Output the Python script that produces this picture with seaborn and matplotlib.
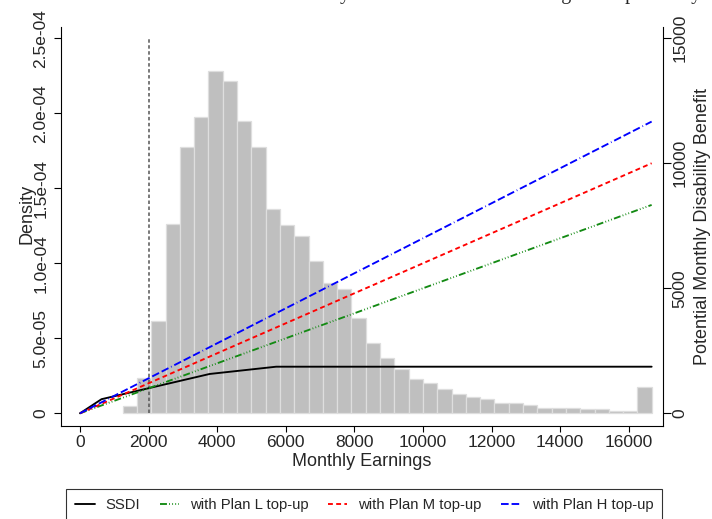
import numpy as np
import pandas as pd
import matplotlib
matplotlib.use("Agg")
import matplotlib.pyplot as plt
import seaborn as sns

# ---------------- data ----------------
bin_start = 1245
bin_width = 417
density = [4.9e-6, 2.33e-5, 6.15e-5, 1.262e-4, 1.775e-4, 1.978e-4, 2.28e-4,
           2.218e-4, 1.951e-4, 1.773e-4, 1.36e-4, 1.258e-4, 1.18e-4, 1.018e-4,
           8.71e-5, 8.29e-5, 6.33e-5, 4.71e-5, 3.71e-5, 2.98e-5, 2.31e-5,
           2.04e-5, 1.64e-5, 1.31e-5, 1.11e-5, 9.8e-6, 7.1e-6, 7.1e-6, 5.3e-6,
           3.8e-6, 3.8e-6, 3.8e-6, 2.9e-6, 2.9e-6, 1.3e-6, 1.3e-6, 1.73e-5]

ssdi_x = [0, 627, 3779, 5720, 16670]
ssdi_y = [0, 564, 1573, 1864, 1864]
plan_x = [0, 16670]
plan_L = [0, 8335]
plan_M = [0, 10002]
plan_H = [0, 11669]
cutoff = 2010

xticks = [0, 2000, 4000, 6000, 8000, 10000, 12000, 14000, 16000]
yticks_left = [0, 5e-5, 1e-4, 1.5e-4, 2e-4, 2.5e-4]
yticklabels_left = ["0", "5.0e-05", "1.0e-04", "1.5e-04", "2.0e-04", "2.5e-04"]
yticks_right = [0, 5000, 10000, 15000]
legend_labels = ["SSDI", "with Plan L top-up", "with Plan M top-up", "with Plan H top-up"]
title_text = "Distribution of Monthly SSDI Benefits and Earnings: Sample Study"

# ---------------- style ----------------
sns.set_style("white")
plt.rcParams["font.family"] = ["Liberation Sans", "DejaVu Sans"]
plt.rcParams["lines.scale_dashes"] = False

W, H = 712, 519
fig = plt.figure(figsize=(W / 100, H / 100), dpi=100)
L, R, B, T = 61, 663, 425.7, 27
ax = fig.add_axes([L / W, 1 - B / H, (R - L) / W, (B - T) / H])

centers = bin_start + bin_width * (np.arange(len(density)) + 0.5)
hist_df = pd.DataFrame({"earn": centers, "dens": density})
sns.barplot(data=hist_df, x="earn", y="dens", native_scale=True, width=1.0,
            ax=ax, color="#bfbfbf", edgecolor="#dedede", linewidth=0.9,
            saturation=1.0, errorbar=None, zorder=1)
ax.vlines(cutoff, 0, 2.5e-4, colors="#555555", linewidth=1.1,
          linestyles=[(0, (2.5, 1.8))], zorder=2)

ax.set_xlim(-554, 17001)
ax.set_ylim(-8.27e-6, 2.575e-4)
ax.set_xticks(xticks)
ax.set_xticklabels([str(v) for v in xticks])
ax.set_yticks(yticks_left)
ax.set_yticklabels(yticklabels_left)
ax.set_xlabel("Monthly Earnings", fontsize=13, labelpad=2)
ax.set_ylabel("Density", fontsize=13)
ax.yaxis.set_label_coords(-0.043, 0.53)

ax2 = ax.twinx()
lw = 1.35
sns.lineplot(x=ssdi_x, y=ssdi_y, ax=ax2, color="black", linewidth=lw,
             label=legend_labels[0])
sns.lineplot(x=plan_x, y=plan_L, ax=ax2, color="#138a13", linewidth=lw,
             linestyle=(0, (5.0, 1.6, 0.6, 1.6, 0.6, 1.6, 0.6, 1.6)),
             label=legend_labels[1])
sns.lineplot(x=plan_x, y=plan_M, ax=ax2, color="#ff0000", linewidth=lw,
             linestyle=(0, (3.5, 2.4)), label=legend_labels[2])
sns.lineplot(x=plan_x, y=plan_H, ax=ax2, color="#0000ff", linewidth=lw,
             linestyle=(0, (5.5, 2.1, 5.5, 2.1, 5.5, 2.1, 0.5, 2.1)),
             label=legend_labels[3])
ax2.set_ylim(-496, 15452)
ax2.set_yticks(yticks_right)
ax2.set_yticklabels([str(v) for v in yticks_right])
ax2.set_ylabel("Potential Monthly Disability Benefit", fontsize=13)
ax2.yaxis.set_label_coords(1.052, 0.5)

handles, labels = ax2.get_legend_handles_labels()
ax2.get_legend().remove()

for a in (ax, ax2):
    a.spines["top"].set_visible(False)
    for s in a.spines.values():
        s.set_color("black")
        s.set_linewidth(0.8)
ax.spines["right"].set_visible(False)
ax2.spines["left"].set_visible(False)
ax2.spines["bottom"].set_visible(False)

ax.tick_params(axis="x", direction="out", length=4.5, width=0.8, pad=2.5,
               labelsize=12.5, bottom=True, color="black")
ax.tick_params(axis="y", direction="out", length=5, width=0.8, pad=4,
               labelsize=12.5, left=True, labelrotation=90, color="black")
ax2.tick_params(axis="y", direction="out", length=5.5, width=0.8, pad=1.5,
                labelsize=12.5, right=True, labelrotation=90, color="black")
for lab in ax.get_yticklabels() + ax2.get_yticklabels():
    lab.set_verticalalignment("center")

leg = fig.legend(handles, labels, loc="upper left",
                 bbox_to_anchor=(66 / W, 1 - 489 / H), ncol=4, frameon=True,
                 fancybox=False, edgecolor="black", fontsize=10.7,
                 handlelength=1.3, handletextpad=0.75, columnspacing=1.3,
                 borderpad=0.62, borderaxespad=0)
leg.get_frame().set_linewidth(0.8)

# clipped title at top (only descenders visible, as in the reference)
renderer = fig.canvas.get_renderer()
tmp = fig.text(0, 0, "Distribution of Monthl", family="Liberation Serif",
               fontsize=14.3)
pre_w = tmp.get_window_extent(renderer).width
tmp.remove()
fig.text((340 - pre_w) / W, 1 + 1.0 / H, title_text, family="Liberation Serif",
         fontsize=14.3, ha="left", va="baseline")

fig.savefig("out.png", dpi=100)
